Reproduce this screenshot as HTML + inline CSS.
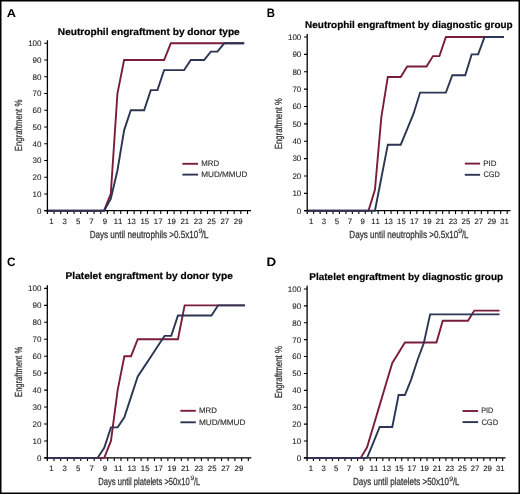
<!DOCTYPE html>
<html><head><meta charset="utf-8"><title>Engraftment</title>
<style>
html,body{margin:0;padding:0;background:#fff;}
body{width:520px;height:494px;overflow:hidden;}
svg{display:block;will-change:transform;}
text{font-family:"Liberation Sans",sans-serif;text-rendering:geometricPrecision;font-kerning:none;}
.let{font-size:12.2px;font-weight:bold;fill:#000;}
.tit{font-size:9.8px;font-weight:bold;fill:#000;stroke:#000;stroke-width:0.2px;}
.ax{stroke:#000;stroke-width:1.3;fill:none;}
.tk{stroke:#000;stroke-width:1.1;fill:none;}
.yl{font-size:8px;fill:#222;stroke:#222;stroke-width:0.08px;text-anchor:end;}
.xl{font-size:7.8px;fill:#222;stroke:#222;stroke-width:0.12px;text-anchor:middle;}
.axt{font-size:10.3px;fill:#333;stroke:#333;stroke-width:0.25px;}
.sup{font-size:6.4px;stroke-width:0.15px;}
.lg{font-size:8.0px;fill:#333;stroke:#333;stroke-width:0.15px;}
</style></head>
<body>
<svg width="520" height="494" viewBox="0 0 520 494">
<rect x="0" y="0" width="520" height="494" fill="#fff"/>
<text x="6.88" y="16.9" class="let" textLength="9.26" lengthAdjust="spacingAndGlyphs" style="font-size:11.4px">A</text>
<text x="57.82" y="34.5" class="tit" textLength="181.92" lengthAdjust="spacingAndGlyphs">Neutrophil engraftment by donor type</text>
<path class="ax" d="M47.4 40.2V213.9M44.2 210.7H251"/>
<path class="tk" d="M44.2 210.7H47.4M44.2 193.96H47.4M44.2 177.22H47.4M44.2 160.48H47.4M44.2 143.74H47.4M44.2 127H47.4M44.2 110.26H47.4M44.2 93.52H47.4M44.2 76.78H47.4M44.2 60.04H47.4M44.2 43.3H47.4M54.07 210.7V213.9M60.74 210.7V213.9M67.41 210.7V213.9M74.08 210.7V213.9M80.75 210.7V213.9M87.42 210.7V213.9M94.09 210.7V213.9M100.76 210.7V213.9M107.43 210.7V213.9M114.1 210.7V213.9M120.77 210.7V213.9M127.44 210.7V213.9M134.11 210.7V213.9M140.78 210.7V213.9M147.45 210.7V213.9M154.12 210.7V213.9M160.79 210.7V213.9M167.46 210.7V213.9M174.13 210.7V213.9M180.8 210.7V213.9M187.47 210.7V213.9M194.14 210.7V213.9M200.81 210.7V213.9M207.48 210.7V213.9M214.15 210.7V213.9M220.82 210.7V213.9M227.49 210.7V213.9M234.16 210.7V213.9M240.83 210.7V213.9M247.5 210.7V213.9"/>
<text x="41.5" y="213.55" class="yl">0</text>
<text x="41.5" y="196.81" class="yl">10</text>
<text x="41.5" y="180.07" class="yl">20</text>
<text x="41.5" y="163.33" class="yl">30</text>
<text x="41.5" y="146.59" class="yl">40</text>
<text x="41.5" y="129.85" class="yl">50</text>
<text x="41.5" y="113.11" class="yl">60</text>
<text x="41.5" y="96.37" class="yl">70</text>
<text x="41.5" y="79.63" class="yl">80</text>
<text x="41.5" y="62.89" class="yl">90</text>
<text x="41.5" y="46.15" class="yl">100</text>
<text x="51.44" y="223.5" class="xl">1</text>
<text x="64.78" y="223.5" class="xl">3</text>
<text x="78.11" y="223.5" class="xl">5</text>
<text x="91.45" y="223.5" class="xl">7</text>
<text x="104.8" y="223.5" class="xl">9</text>
<text x="118.14" y="223.5" class="xl">11</text>
<text x="131.47" y="223.5" class="xl">13</text>
<text x="144.81" y="223.5" class="xl">15</text>
<text x="158.15" y="223.5" class="xl">17</text>
<text x="171.49" y="223.5" class="xl">19</text>
<text x="184.83" y="223.5" class="xl">21</text>
<text x="198.17" y="223.5" class="xl">23</text>
<text x="211.51" y="223.5" class="xl">25</text>
<text x="224.85" y="223.5" class="xl">27</text>
<text x="238.19" y="223.5" class="xl">29</text>
<text x="89.64" y="237.8" class="axt" textLength="108.68" lengthAdjust="spacingAndGlyphs">Days until neutrophils >0.5x10</text>
<text x="198.47" y="232.8" class="axt sup" textLength="3.97" lengthAdjust="spacingAndGlyphs">9</text>
<text x="201.5" y="237.8" class="axt" textLength="7.08" lengthAdjust="spacingAndGlyphs">/L</text>
<text transform="translate(22.2 150.6) rotate(-90)" x="-0.64" y="0" class="axt" textLength="51.62" lengthAdjust="spacingAndGlyphs">Engraftment %</text>
<polyline fill="none" stroke="#7a1c3b" stroke-width="1.9" stroke-linejoin="miter" points="48,210.7 50.73,210.7 57.41,210.7 64.08,210.7 70.75,210.7 77.41,210.7 84.09,210.7 90.75,210.7 97.42,210.7 104.09,210.7 110.77,193.96 117.44,93.52 124.1,60.04 130.78,60.04 137.44,60.04 144.12,60.04 150.78,60.04 157.45,60.04 164.12,60.04 170.79,43.3 177.47,43.3 184.13,43.3 190.81,43.3 197.47,43.3 204.15,43.3 210.81,43.3 217.49,43.3 224.16,43.3 230.83,43.3 237.5,43.3 244.16,43.3"/>
<polyline fill="none" stroke="#2c3553" stroke-width="1.9" stroke-linejoin="miter" points="48,210.7 50.73,210.7 57.41,210.7 64.08,210.7 70.75,210.7 77.41,210.7 84.09,210.7 90.75,210.7 97.42,210.7 104.09,210.7 110.77,198.98 117.44,170.52 124.1,130.35 130.78,110.26 137.44,110.26 144.12,110.26 150.78,90.17 157.45,90.17 164.12,70.08 170.79,70.08 177.47,70.08 184.13,70.08 190.81,60.04 197.47,60.04 204.15,60.04 210.81,51.67 217.49,51.67 224.16,43.3 230.83,43.3 237.5,43.3 244.16,43.3"/>
<path stroke="#7a1c3b" stroke-width="1.9" d="M182.4 163.8H198.1"/>
<path stroke="#2c3553" stroke-width="1.9" d="M182.4 174.6H198.1"/>
<text x="201.25" y="165.7" class="lg" textLength="17.92" lengthAdjust="spacingAndGlyphs">MRD</text>
<text x="201.23" y="177.4" class="lg" textLength="46.16" lengthAdjust="spacingAndGlyphs">MUD/MMUD</text>
<text x="266.64" y="16.8" class="let" textLength="8.17" lengthAdjust="spacingAndGlyphs" style="font-size:12.2px">B</text>
<text x="305.14" y="27.8" class="tit" textLength="207.57" lengthAdjust="spacingAndGlyphs">Neutrophil engraftment by diagnostic group</text>
<path class="ax" d="M307.2 33.9V213.9M304 210.7H510.5"/>
<path class="tk" d="M304 210.7H307.2M304 193.33H307.2M304 175.96H307.2M304 158.59H307.2M304 141.22H307.2M304 123.85H307.2M304 106.48H307.2M304 89.11H307.2M304 71.74H307.2M304 54.37H307.2M304 37H307.2M313.65 210.7V213.9M320.1 210.7V213.9M326.55 210.7V213.9M333 210.7V213.9M339.45 210.7V213.9M345.9 210.7V213.9M352.35 210.7V213.9M358.8 210.7V213.9M365.25 210.7V213.9M371.7 210.7V213.9M378.15 210.7V213.9M384.6 210.7V213.9M391.05 210.7V213.9M397.5 210.7V213.9M403.95 210.7V213.9M410.4 210.7V213.9M416.85 210.7V213.9M423.3 210.7V213.9M429.75 210.7V213.9M436.2 210.7V213.9M442.65 210.7V213.9M449.1 210.7V213.9M455.55 210.7V213.9M462 210.7V213.9M468.45 210.7V213.9M474.9 210.7V213.9M481.35 210.7V213.9M487.8 210.7V213.9M494.25 210.7V213.9M500.7 210.7V213.9M507.15 210.7V213.9"/>
<text x="301.3" y="213.55" class="yl">0</text>
<text x="301.3" y="196.18" class="yl">10</text>
<text x="301.3" y="178.81" class="yl">20</text>
<text x="301.3" y="161.44" class="yl">30</text>
<text x="301.3" y="144.07" class="yl">40</text>
<text x="301.3" y="126.7" class="yl">50</text>
<text x="301.3" y="109.33" class="yl">60</text>
<text x="301.3" y="91.96" class="yl">70</text>
<text x="301.3" y="74.59" class="yl">80</text>
<text x="301.3" y="57.22" class="yl">90</text>
<text x="301.3" y="39.85" class="yl">100</text>
<text x="311.12" y="223.5" class="xl">1</text>
<text x="324.02" y="223.5" class="xl">3</text>
<text x="336.92" y="223.5" class="xl">5</text>
<text x="349.82" y="223.5" class="xl">7</text>
<text x="362.72" y="223.5" class="xl">9</text>
<text x="375.62" y="223.5" class="xl">11</text>
<text x="388.52" y="223.5" class="xl">13</text>
<text x="401.43" y="223.5" class="xl">15</text>
<text x="414.32" y="223.5" class="xl">17</text>
<text x="427.22" y="223.5" class="xl">19</text>
<text x="440.12" y="223.5" class="xl">21</text>
<text x="453.02" y="223.5" class="xl">23</text>
<text x="465.93" y="223.5" class="xl">25</text>
<text x="478.82" y="223.5" class="xl">27</text>
<text x="491.72" y="223.5" class="xl">29</text>
<text x="504.62" y="223.5" class="xl">31</text>
<text x="349.33" y="238.1" class="axt" textLength="108.98" lengthAdjust="spacingAndGlyphs">Days until neutrophils >0.5x10</text>
<text x="458.11" y="232.8" class="axt sup" textLength="4.58" lengthAdjust="spacingAndGlyphs">9</text>
<text x="462" y="238.1" class="axt" textLength="6.35" lengthAdjust="spacingAndGlyphs">/L</text>
<text transform="translate(281.9 148.5) rotate(-90)" x="-0.63" y="0" class="axt" textLength="50.91" lengthAdjust="spacingAndGlyphs">Engraftment %</text>
<polyline fill="none" stroke="#7a1c3b" stroke-width="1.9" stroke-linejoin="miter" points="307.8,210.7 310.43,210.7 316.88,210.7 323.32,210.7 329.77,210.7 336.22,210.7 342.68,210.7 349.12,210.7 355.57,210.7 362.02,210.7 368.47,210.7 374.93,189.86 381.38,116.9 387.82,76.95 394.27,76.95 400.73,76.95 407.18,66.53 413.62,66.53 420.07,66.53 426.52,66.53 432.98,56.11 439.42,56.11 445.88,37 452.32,37 458.77,37 465.23,37 471.67,37 478.12,37 484.57,37 491.02,37 497.48,37 503.92,37"/>
<polyline fill="none" stroke="#2c3553" stroke-width="1.9" stroke-linejoin="miter" points="307.8,210.7 310.43,210.7 316.88,210.7 323.32,210.7 329.77,210.7 336.22,210.7 342.68,210.7 349.12,210.7 355.57,210.7 362.02,210.7 368.47,210.7 374.93,210.7 381.38,177.7 387.82,144.69 394.27,144.69 400.73,144.69 407.18,129.06 413.62,113.43 420.07,92.58 426.52,92.58 432.98,92.58 439.42,92.58 445.88,92.58 452.32,75.21 458.77,75.21 465.23,75.21 471.67,54.37 478.12,54.37 484.57,37 491.02,37 497.48,37 503.92,37"/>
<path stroke="#7a1c3b" stroke-width="1.9" d="M464.8 163.6H480.1"/>
<path stroke="#2c3553" stroke-width="1.9" d="M464.8 174.8H480.1"/>
<text x="483.15" y="165.9" class="lg" textLength="13.23" lengthAdjust="spacingAndGlyphs">PID</text>
<text x="483.43" y="177.1" class="lg" textLength="16.32" lengthAdjust="spacingAndGlyphs">CGD</text>
<text x="6.92" y="265.9" class="let" textLength="8.51" lengthAdjust="spacingAndGlyphs" style="font-size:12.2px">C</text>
<text x="65.57" y="279.2" class="tit" textLength="167.27" lengthAdjust="spacingAndGlyphs">Platelet engraftment by donor type</text>
<path class="ax" d="M47.3 285.3V461.1M44.1 457.9H251.3"/>
<path class="tk" d="M44.1 457.9H47.3M44.1 440.95H47.3M44.1 424H47.3M44.1 407.05H47.3M44.1 390.1H47.3M44.1 373.15H47.3M44.1 356.2H47.3M44.1 339.25H47.3M44.1 322.3H47.3M44.1 305.35H47.3M44.1 288.4H47.3M54 457.9V461.1M60.7 457.9V461.1M67.4 457.9V461.1M74.1 457.9V461.1M80.8 457.9V461.1M87.5 457.9V461.1M94.2 457.9V461.1M100.9 457.9V461.1M107.6 457.9V461.1M114.3 457.9V461.1M121 457.9V461.1M127.7 457.9V461.1M134.4 457.9V461.1M141.1 457.9V461.1M147.8 457.9V461.1M154.5 457.9V461.1M161.2 457.9V461.1M167.9 457.9V461.1M174.6 457.9V461.1M181.3 457.9V461.1M188 457.9V461.1M194.7 457.9V461.1M201.4 457.9V461.1M208.1 457.9V461.1M214.8 457.9V461.1M221.5 457.9V461.1M228.2 457.9V461.1M234.9 457.9V461.1M241.6 457.9V461.1M248.3 457.9V461.1"/>
<text x="41.4" y="460.75" class="yl">0</text>
<text x="41.4" y="443.8" class="yl">10</text>
<text x="41.4" y="426.85" class="yl">20</text>
<text x="41.4" y="409.9" class="yl">30</text>
<text x="41.4" y="392.95" class="yl">40</text>
<text x="41.4" y="376" class="yl">50</text>
<text x="41.4" y="359.05" class="yl">60</text>
<text x="41.4" y="342.1" class="yl">70</text>
<text x="41.4" y="325.15" class="yl">80</text>
<text x="41.4" y="308.2" class="yl">90</text>
<text x="41.4" y="291.25" class="yl">100</text>
<text x="51.35" y="470.7" class="xl">1</text>
<text x="64.75" y="470.7" class="xl">3</text>
<text x="78.15" y="470.7" class="xl">5</text>
<text x="91.55" y="470.7" class="xl">7</text>
<text x="104.95" y="470.7" class="xl">9</text>
<text x="118.35" y="470.7" class="xl">11</text>
<text x="131.75" y="470.7" class="xl">13</text>
<text x="145.15" y="470.7" class="xl">15</text>
<text x="158.55" y="470.7" class="xl">17</text>
<text x="171.95" y="470.7" class="xl">19</text>
<text x="185.35" y="470.7" class="xl">21</text>
<text x="198.75" y="470.7" class="xl">23</text>
<text x="212.15" y="470.7" class="xl">25</text>
<text x="225.55" y="470.7" class="xl">27</text>
<text x="238.95" y="470.7" class="xl">29</text>
<text x="98.17" y="484.8" class="axt" textLength="91.53" lengthAdjust="spacingAndGlyphs">Days until platelets >50x10</text>
<text x="190.58" y="480.4" class="axt sup" textLength="3.79" lengthAdjust="spacingAndGlyphs">9</text>
<text x="194" y="484.8" class="axt" textLength="6.04" lengthAdjust="spacingAndGlyphs">/L</text>
<text transform="translate(22.2 396.3) rotate(-90)" x="-0.62" y="0" class="axt" textLength="50.19" lengthAdjust="spacingAndGlyphs">Engraftment %</text>
<polyline fill="none" stroke="#7a1c3b" stroke-width="1.9" stroke-linejoin="miter" points="47.9,457.9 50.65,457.9 57.35,457.9 64.05,457.9 70.75,457.9 77.45,457.9 84.15,457.9 90.85,457.9 97.55,457.9 104.25,457.9 110.95,440.95 117.65,390.1 124.35,356.2 131.05,356.2 137.75,339.25 144.45,339.25 151.15,339.25 157.85,339.25 164.55,339.25 171.25,339.25 177.95,339.25 184.65,305.35 191.35,305.35 198.05,305.35 204.75,305.35 211.45,305.35 218.15,305.35 224.85,305.35 231.55,305.35 238.25,305.35 244.95,305.35"/>
<polyline fill="none" stroke="#2c3553" stroke-width="1.9" stroke-linejoin="miter" points="47.9,457.9 50.65,457.9 57.35,457.9 64.05,457.9 70.75,457.9 77.45,457.9 84.15,457.9 90.85,457.9 97.55,457.9 104.25,447.73 110.95,427.39 117.65,427.39 124.35,417.22 131.05,396.88 137.75,376.54 144.45,366.37 151.15,356.2 157.85,346.03 164.55,335.86 171.25,335.86 177.95,315.52 184.65,315.52 191.35,315.52 198.05,315.52 204.75,315.52 211.45,315.52 218.15,305.35 224.85,305.35 231.55,305.35 238.25,305.35 244.95,305.35"/>
<path stroke="#7a1c3b" stroke-width="1.9" d="M180.4 410.8H195.8"/>
<path stroke="#2c3553" stroke-width="1.9" d="M180.4 422.3H195.8"/>
<text x="198.95" y="413.4" class="lg" textLength="17.92" lengthAdjust="spacingAndGlyphs">MRD</text>
<text x="198.93" y="424.6" class="lg" textLength="46.47" lengthAdjust="spacingAndGlyphs">MUD/MMUD</text>
<text x="266.51" y="265.7" class="let" textLength="9.66" lengthAdjust="spacingAndGlyphs" style="font-size:12.2px">D</text>
<text x="309.33" y="279.6" class="tit" textLength="193.78" lengthAdjust="spacingAndGlyphs">Platelet engraftment by diagnostic group</text>
<path class="ax" d="M307.1 285.7V461.1M303.9 457.9H505.6"/>
<path class="tk" d="M303.9 457.9H307.1M303.9 441.01H307.1M303.9 424.12H307.1M303.9 407.23H307.1M303.9 390.34H307.1M303.9 373.45H307.1M303.9 356.56H307.1M303.9 339.67H307.1M303.9 322.78H307.1M303.9 305.89H307.1M303.9 289H307.1M313.41 457.9V461.1M319.72 457.9V461.1M326.03 457.9V461.1M332.34 457.9V461.1M338.65 457.9V461.1M344.96 457.9V461.1M351.27 457.9V461.1M357.58 457.9V461.1M363.89 457.9V461.1M370.2 457.9V461.1M376.51 457.9V461.1M382.82 457.9V461.1M389.13 457.9V461.1M395.44 457.9V461.1M401.75 457.9V461.1M408.06 457.9V461.1M414.37 457.9V461.1M420.68 457.9V461.1M426.99 457.9V461.1M433.3 457.9V461.1M439.61 457.9V461.1M445.92 457.9V461.1M452.23 457.9V461.1M458.54 457.9V461.1M464.85 457.9V461.1M471.16 457.9V461.1M477.47 457.9V461.1M483.78 457.9V461.1M490.09 457.9V461.1M496.4 457.9V461.1M502.71 457.9V461.1"/>
<text x="301.2" y="460.75" class="yl">0</text>
<text x="301.2" y="443.86" class="yl">10</text>
<text x="301.2" y="426.97" class="yl">20</text>
<text x="301.2" y="410.08" class="yl">30</text>
<text x="301.2" y="393.19" class="yl">40</text>
<text x="301.2" y="376.3" class="yl">50</text>
<text x="301.2" y="359.41" class="yl">60</text>
<text x="301.2" y="342.52" class="yl">70</text>
<text x="301.2" y="325.63" class="yl">80</text>
<text x="301.2" y="308.74" class="yl">90</text>
<text x="301.2" y="291.85" class="yl">100</text>
<text x="310.95" y="470.7" class="xl">1</text>
<text x="323.57" y="470.7" class="xl">3</text>
<text x="336.19" y="470.7" class="xl">5</text>
<text x="348.81" y="470.7" class="xl">7</text>
<text x="361.44" y="470.7" class="xl">9</text>
<text x="374.06" y="470.7" class="xl">11</text>
<text x="386.68" y="470.7" class="xl">13</text>
<text x="399.3" y="470.7" class="xl">15</text>
<text x="411.92" y="470.7" class="xl">17</text>
<text x="424.54" y="470.7" class="xl">19</text>
<text x="437.16" y="470.7" class="xl">21</text>
<text x="449.78" y="470.7" class="xl">23</text>
<text x="462.4" y="470.7" class="xl">25</text>
<text x="475.02" y="470.7" class="xl">27</text>
<text x="487.63" y="470.7" class="xl">29</text>
<text x="500.25" y="470.7" class="xl">31</text>
<text x="352.94" y="484.8" class="axt" textLength="96.07" lengthAdjust="spacingAndGlyphs">Days until platelets >50x10</text>
<text x="449.28" y="480.7" class="axt sup" textLength="3.85" lengthAdjust="spacingAndGlyphs">9</text>
<text x="453" y="484.8" class="axt" textLength="6.35" lengthAdjust="spacingAndGlyphs">/L</text>
<text transform="translate(282.2 397.7) rotate(-90)" x="-0.65" y="0" class="axt" textLength="52.33" lengthAdjust="spacingAndGlyphs">Engraftment %</text>
<polyline fill="none" stroke="#7a1c3b" stroke-width="1.9" stroke-linejoin="miter" points="307.7,457.9 310.25,457.9 316.56,457.9 322.88,457.9 329.19,457.9 335.5,457.9 341.81,457.9 348.12,457.9 354.43,457.9 360.74,457.9 367.05,447.34 373.36,426.23 379.67,405.12 385.98,384.01 392.29,362.89 398.6,352.68 404.91,342.54 411.22,342.54 417.53,342.54 423.84,342.54 430.14,342.54 436.46,342.54 442.76,320.75 449.08,320.75 455.38,320.75 461.7,320.75 468,320.75 474.32,310.62 480.62,310.62 486.94,310.62 493.25,310.62 499.56,310.62"/>
<polyline fill="none" stroke="#2c3553" stroke-width="1.9" stroke-linejoin="miter" points="307.7,457.9 310.25,457.9 316.56,457.9 322.88,457.9 329.19,457.9 335.5,457.9 341.81,457.9 348.12,457.9 354.43,457.9 360.74,457.9 367.05,457.9 373.36,442.7 379.67,426.99 385.98,426.99 392.29,426.99 398.6,395.07 404.91,395.07 411.22,379.36 417.53,359.94 423.84,343.05 430.14,314.33 436.46,314.33 442.76,314.33 449.08,314.33 455.38,314.33 461.7,314.33 468,314.33 474.32,314.33 480.62,314.33 486.94,314.33 493.25,314.33 499.56,314.33"/>
<path stroke="#7a1c3b" stroke-width="1.9" d="M462.5 411H478.1"/>
<path stroke="#2c3553" stroke-width="1.9" d="M462.5 422.1H478.1"/>
<text x="481.2" y="413.3" class="lg" textLength="12.15" lengthAdjust="spacingAndGlyphs">PID</text>
<text x="481.42" y="424.5" class="lg" textLength="16.64" lengthAdjust="spacingAndGlyphs">CGD</text>
<path fill="#000" d="M0 0H520V494H0ZM1.5 1.5V492.5H518.5V1.5Z" fill-rule="evenodd"/>
</svg>
</body></html>
